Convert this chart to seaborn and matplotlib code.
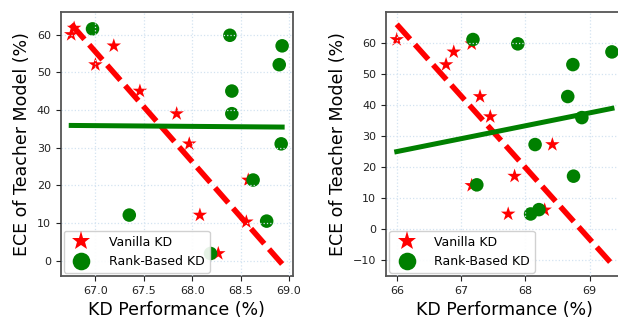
import numpy as np
import pandas as pd
import matplotlib
matplotlib.use("Agg")
import matplotlib.pyplot as plt
import seaborn as sns

# --- DATA ---
# left panel: x = KD performance, y = teacher ECE
L_VAN_X = [66.75, 66.78, 67.00, 67.19, 67.46, 67.84, 67.97, 68.58, 68.08, 68.56, 68.27]
L_VAN_Y = [60.0, 61.7, 52.0, 57.0, 45.0, 39.0, 31.0, 21.4, 12.1, 10.3, 1.9]
L_RANK_X = [66.97, 68.39, 68.93, 68.90, 68.41, 68.41, 68.92, 68.63, 67.35, 68.77, 68.19]
L_RANK_Y = [61.5, 59.8, 57.0, 52.0, 45.0, 39.0, 31.0, 21.4, 12.1, 10.5, 1.9]

# right panel
R_VAN_X = [65.99, 66.76, 66.88, 67.16, 67.29, 67.45, 68.42, 67.16, 67.83, 67.73, 68.30]
R_VAN_Y = [61.1, 53.0, 57.1, 59.7, 42.7, 36.2, 27.2, 14.0, 17.0, 4.8, 6.1]
R_RANK_X = [67.18, 67.88, 69.35, 68.74, 68.66, 68.88, 68.15, 67.24, 68.75, 68.08, 68.21]
R_RANK_Y = [61.1, 59.7, 57.1, 53.0, 42.7, 35.9, 27.2, 14.2, 17.0, 4.8, 6.2]

LABELS = ["Vanilla KD", "Rank-Based KD"]
XLABEL = "KD Performance (%)"
YLABEL = "ECE of Teacher Model (%)"
L_XTICKS = [67.0, 67.5, 68.0, 68.5, 69.0]
R_XTICKS = [66, 67, 68, 69]

plt.rcParams["font.family"] = ["DejaVu Sans"]


def fit_line(x, y, xs):
    k, b = np.polyfit(x, y, 1)
    return k * xs + b


def draw_panel(ax, vx, vy, rx, ry, xticks, xfmt):
    ax.set_axisbelow(False)
    df = pd.DataFrame({
        "x": vx + rx,
        "y": vy + ry,
        "method": [LABELS[0]] * len(vx) + [LABELS[1]] * len(rx),
    })
    sns.scatterplot(data=df, x="x", y="y", hue="method", style="method",
                    palette={LABELS[0]: "red", LABELS[1]: "green"},
                    markers={LABELS[0]: "*", LABELS[1]: "o"},
                    size="method", sizes={LABELS[0]: 120, LABELS[1]: 95},
                    linewidth=0, ax=ax, zorder=2)
    # least-squares trend lines across the full x range
    xs = np.linspace(min(vx + rx), max(vx + rx), 50)
    ax.plot(xs, fit_line(vx, vy, xs), color="red", lw=4.0,
            linestyle=(0, (3.6, 1.3)), zorder=3)
    ax.plot(xs, fit_line(rx, ry, xs), color="green", lw=3.6, zorder=3)

    ax.grid(True, color="#d3e3f1", linestyle=":", linewidth=0.9)
    ax.set_xticks(xticks)
    ax.set_xticklabels([xfmt.format(t) for t in xticks])
    ax.set_xlabel(XLABEL, fontsize=12.5)
    ax.set_ylabel(YLABEL, fontsize=12.5)
    ax.tick_params(labelsize=8, colors="#222222", length=3.5)
    for sp in ax.spines.values():
        sp.set_color("#555555")
        sp.set_linewidth(1.3)

    handles, labels = ax.get_legend_handles_labels()
    ax.legend(handles[:2], labels[:2], loc="lower left", fontsize=9,
              markerscale=1.3, borderaxespad=0.25, handletextpad=1.2,
              labelspacing=0.5, framealpha=0.9, edgecolor="#cccccc")


fig = plt.figure(figsize=(6.18, 3.2), dpi=100)
ax1 = fig.add_axes([0.0982, 0.1375, 0.3754, 0.824])
ax2 = fig.add_axes([0.6246, 0.1375, 0.383, 0.824])

draw_panel(ax1, L_VAN_X, L_VAN_Y, L_RANK_X, L_RANK_Y, L_XTICKS, "{:.1f}")
draw_panel(ax2, R_VAN_X, R_VAN_Y, R_RANK_X, R_RANK_Y, R_XTICKS, "{:.0f}")

fig.savefig("out.png", dpi=100)
